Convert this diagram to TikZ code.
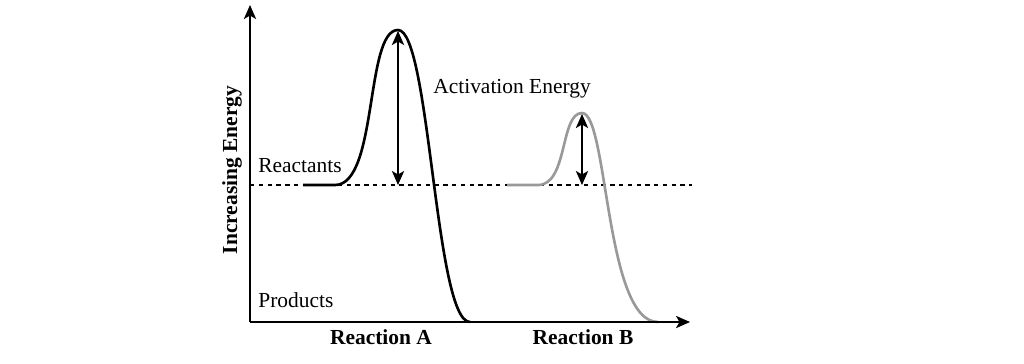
\documentclass[tikz,border=0pt]{standalone}
\usepackage{fontspec}
\setmainfont{Liberation Serif}
\usetikzlibrary{arrows.meta}
\tikzset{
  axis/.style={line width=0.9pt,-{Stealth[length=8pt,width=7pt,inset=2pt]}},
  energy/.style={line width=1.5pt},
  gap/.style={line width=0.9pt,{Stealth[length=8pt,width=7pt,inset=2pt]}-{Stealth[length=8pt,width=7pt,inset=2pt]}},
  lbl/.style={font=\fontsize{12.2}{14}\selectfont,inner sep=0pt},
  bold/.style={font=\fontsize{12.2}{14}\selectfont\bfseries,inner sep=0pt}
}
\begin{document}
\begin{tikzpicture}[x=0.02cm,y=-0.02cm]

    \useasboundingbox (0,0) rectangle (1024,363);

    \coordinate (origin) at (250,322);
    \coordinate (ytop) at (250,5);
    \coordinate (xend) at (690,322);
    \coordinate (dashL) at (250,185);
    \coordinate (dashR) at (692,185);

    \draw[dashed,dash pattern=on 2.5pt off 2.5pt,line width=0.8pt] (dashL) -- (dashR);

    % reaction A
    \draw[energy] (303,185) -- (335,185) .. controls (378,185) and (365,30) .. (398,30)
        .. controls (430,30) and (435,322) .. (470,322);
    % reaction B
    \draw[energy,color=black!40] (507,185) -- (538,185) .. controls (568,185) and (560,113) .. (582,113)
        .. controls (608,113) and (605,322) .. (658,322);

    \draw[axis] (origin) -- (ytop);
    \draw[axis] (origin) -- (xend);

    \coordinate (peakA) at (398,31);
    \coordinate (baseA) at (398,185);
    \coordinate (peakB) at (582,114);
    \coordinate (baseB) at (582,185);
    \draw[gap] (peakA) -- (baseA);
    \draw[gap] (peakB) -- (baseB);

    \node[bold,rotate=90] (yname) at (232,170) {Increasing Energy};
    \node[lbl,anchor=west] (react) at (258,166) {Reactants};
    \node[lbl,anchor=west] (prod) at (258,300) {Products};
    \node[lbl,anchor=west] (act) at (433,89) {Activation Energy};
    \node[bold] (ra) at (381,337) {Reaction A};
    \node[bold] (rb) at (583,337) {Reaction B};

\end{tikzpicture}
\end{document}
